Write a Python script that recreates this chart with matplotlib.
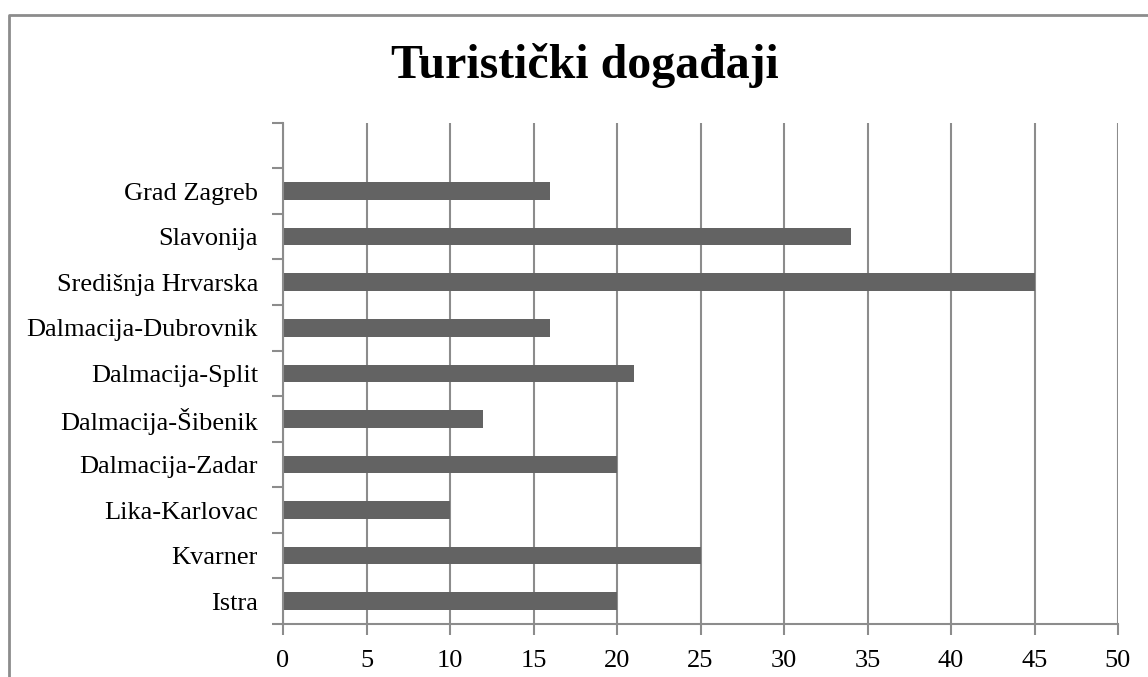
import matplotlib
matplotlib.use("Agg")
import matplotlib.pyplot as plt
from matplotlib.lines import Line2D
import numpy as np

categories = ["Istra", "Kvarner", "Lika-Karlovac", "Dalmacija-Zadar", "Dalmacija-Šibenik",
              "Dalmacija-Split", "Dalmacija-Dubrovnik", "Središnja Hrvarska", "Slavonija", "Grad Zagreb"]
values = [20, 25, 10, 20, 12, 21, 16, 45, 34, 16]
x_ticks = [0, 5, 10, 15, 20, 25, 30, 35, 40, 45, 50]
title = "Turistički događaji"

plt.rcParams['font.family'] = ['Liberation Serif', 'DejaVu Serif']

W, H = 1148, 677
fig = plt.figure(figsize=(W / 100, H / 100), dpi=100)
ax = fig.add_axes([283 / W, 1 - 624 / H, (1118 - 283) / W, (624 - 122.7) / H])

gray = '#8c8c8c'
y = np.arange(len(categories))
ax.barh(y, values, height=0.386, color='#636363', zorder=3)

ax.set_xlim(0, 50)
ax.set_ylim(-0.5, len(categories) + 0.5)
ax.set_xticks(x_ticks)
ax.set_xticklabels([str(t) for t in x_ticks], fontsize=19)
ax.set_yticks(y)
ax.set_yticklabels(categories, fontsize=19)
ax.set_yticks(np.arange(-0.5, len(categories) + 1, 1.0), minor=True)
ax.tick_params(axis='y', which='major', length=0, pad=18)
ax.tick_params(axis='y', which='minor', length=8, width=1.5, color=gray, direction='out')
ax.tick_params(axis='x', which='major', length=8, width=1.5, color=gray, pad=11)

ax.grid(axis='x', color=gray, linewidth=1.5, zorder=0)
for s in ['top', 'right']:
    ax.spines[s].set_visible(False)
for s in ['left', 'bottom']:
    ax.spines[s].set_color(gray)
    ax.spines[s].set_linewidth(1.5)
    ax.spines[s].set_zorder(4)

fig.text(585 / W, 1 - 78 / H, title, fontsize=34.5, fontweight='bold', ha='center', va='baseline')

bx = 8.5 / W
by = 1 - 14.5 / H
fig.add_artist(Line2D([bx, bx, 1.0], [0, by, by], transform=fig.transFigure,
                      color=gray, linewidth=2))

fig.savefig("out.png", dpi=100, facecolor='white')
